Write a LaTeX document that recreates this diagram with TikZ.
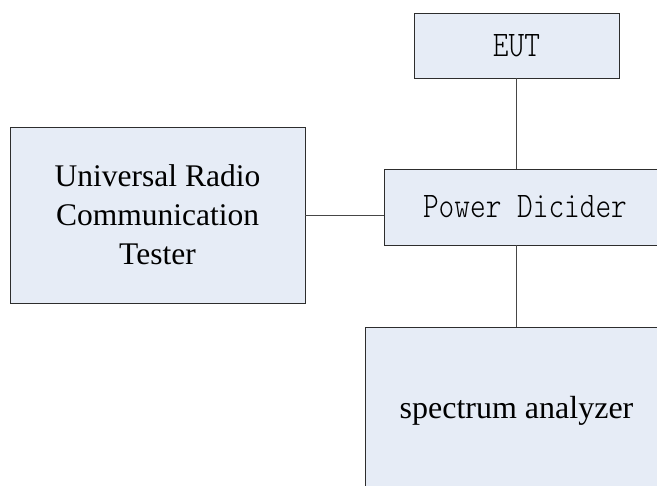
\documentclass[tikz,border=0pt]{standalone}
\usepackage{fontspec}
\setmainfont{Liberation Serif}
\newfontfamily\pdmono[FakeStretch=0.83]{lmmonolt10-regular.otf}
\usetikzlibrary{shadows}
\definecolor{boxfill}{RGB}{230,236,246}
\definecolor{boxline}{RGB}{45,45,45}
\definecolor{wirecol}{RGB}{70,70,70}
\begin{document}
\begin{tikzpicture}[x=1pt,y=-1pt,
  blk/.style={draw=boxline, line width=0.9pt, fill=boxfill, rectangle, inner sep=0pt,
    general shadow={fill=black!45, shadow xshift=1pt, shadow yshift=-1pt}},
  wire/.style={draw=wirecol, line width=0.8pt}]
\useasboundingbox (0,0) rectangle (657,486);
\fill[white] (0,0) rectangle (657,486);
\clip (0,0) rectangle (657,486);
\node[blk, minimum width=205pt, minimum height=65pt,
  font=\pdmono\fontsize{36}{36}\selectfont] (eut) at (516.5,45.5) {EUT};
\node[blk, minimum width=295pt, minimum height=176pt, align=center,
  font=\fontsize{31.5}{39}\selectfont] (urct) at (157.5,215) {Universal Radio\\Communication\\Tester};
\node[blk, minimum width=282pt, minimum height=76pt,
  font=\pdmono\fontsize{36}{36}\selectfont] (pd) at (525,207) {Power Dicider};
\node[blk, minimum width=303pt, minimum height=168pt,
  font=\fontsize{32}{32}\selectfont] (sa) at (516.5,411) {spectrum analyzer};
\draw[wire] (eut.south) -- (eut.south |- pd.north);
\draw[wire] (urct.east) -- (urct.east -| pd.west);
\draw[wire] (sa.north) -- (sa.north |- pd.south);
\end{tikzpicture}
\end{document}
